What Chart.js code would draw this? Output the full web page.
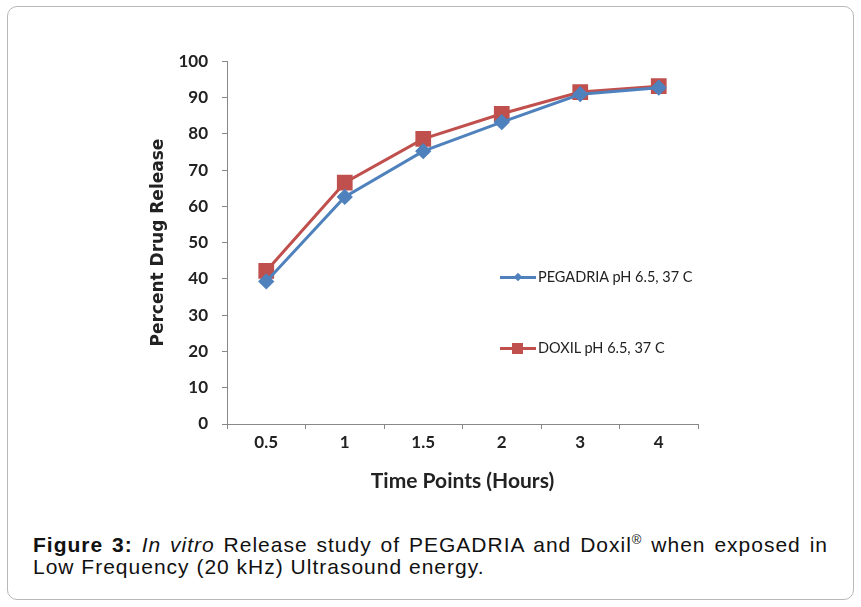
<!DOCTYPE html>
<html>
<head>
<meta charset="utf-8">
<script src="https://cdn.jsdelivr.net/npm/chart.js@4.4.0/dist/chart.umd.min.js"></script>
<style>
  body { margin: 0; background: #fff; width: 861px; height: 607px; position: relative; overflow: hidden; }
  #frame { position: absolute; left: 7px; top: 6px; width: 845px; height: 592px; border: 1px solid #b8b8b8; border-radius: 10px; }
  #wrap { position: absolute; left: 140px; top: 37px; width: 580px; height: 470px; }
  .legend-row { position: absolute; left: 500px; display: flex; align-items: center; font: 14.5px Lato, sans-serif; color: #222; }
  .legend-row .sample { position: relative; width: 36px; height: 14px; margin-right: 2px; }
  .legend-row .sample .ln { position: absolute; left: 0; right: 0; top: 6px; height: 3px; }
  .legend-row .sample .mk { position: absolute; }
  #caption { position: absolute; left: 33px; top: 534px; width: 795px; font: 21px "Liberation Sans", Arial, sans-serif; letter-spacing: 1px; line-height: 22px; color: #111; }
  #caption .l1 { text-align: justify; text-align-last: justify; white-space: nowrap; }
  #caption sup { font-size: 13px; line-height: 0; }
</style>
</head>
<body>
<div id="frame"></div>
<div id="wrap"><canvas id="chart"></canvas></div>
<div id="legend"></div>
<div id="caption"><div class="l1"><b>Figure 3:</b> <i>In vitro</i> Release study of PEGADRIA and Doxil<sup>®</sup> when exposed in</div><div>Low Frequency (20 kHz) Ultrasound energy.</div></div>
<script>
const timePoints = ['0.5', '1', '1.5', '2', '3', '4'];
const pegadria = [39.3, 62.6, 75.2, 83.2, 90.9, 92.7];
const doxil = [42.2, 66.5, 78.6, 85.5, 91.5, 93.1];
const seriesNames = ['PEGADRIA pH 6.5, 37 C', 'DOXIL pH 6.5, 37 C'];

const blue = '#4f81bd';
const red = '#c0504d';

const ctx = document.getElementById('chart').getContext('2d');
const chart = new Chart(ctx, {
    type: 'line',
    data: {
        labels: timePoints,
        datasets: [
            {
                label: seriesNames[0],
                data: pegadria,
                borderColor: blue,
                backgroundColor: blue,
                borderWidth: 3,
                pointStyle: 'rectRot',
                pointRadius: 6,
                pointHoverRadius: 6,
            },
            {
                label: seriesNames[1],
                data: doxil,
                borderColor: red,
                backgroundColor: red,
                borderWidth: 3,
                pointStyle: 'rect',
                pointRadius: 9,
                pointHoverRadius: 9,
            }
        ]
    },
    options: {
        responsive: true,
        maintainAspectRatio: false,
        animation: false,
        layout: { padding: { top: 14, right: 22, left: 0, bottom: 0 } },
        plugins: { legend: { display: false }, tooltip: { enabled: false } },
        scales: {
            x: {
                offset: true,
                grid: { offset: true, drawOnChartArea: false, tickLength: 5, color: '#888' },
                border: { color: '#888' },
                ticks: { color: '#222', padding: 3, font: { family: 'Lato', weight: 'bold', size: 17 } },
                title: {
                    display: true,
                    text: 'Time Points (Hours)',
                    color: '#222',
                    padding: { top: 0, bottom: 13 },
                    font: { family: 'Lato', weight: 'bold', size: 21 }
                },
                afterFit: s => { s.height = 83; }
            },
            y: {
                min: 0,
                max: 100,
                ticks: { stepSize: 10, color: '#222', padding: 14, font: { family: 'Lato', weight: 'bold', size: 17 } },
                grid: { drawOnChartArea: false, tickLength: 5, color: '#888' },
                border: { color: '#888' },
                title: {
                    display: true,
                    text: 'Percent Drug Release',
                    color: '#222',
                    padding: { top: 8, bottom: 0 },
                    font: { family: 'DejaVu Sans', weight: 'bold', size: 17 }
                },
                afterFit: s => { s.width = 87; }
            }
        }
    }
});

// legend placed inside the plot like the original
const legend = document.getElementById('legend');
const rowTops = [268, 339];
chart.data.datasets.forEach((ds, i) => {
    const row = document.createElement('div');
    row.className = 'legend-row';
    row.style.top = rowTops[i] + 'px';
    const sample = document.createElement('div');
    sample.className = 'sample';
    const ln = document.createElement('div');
    ln.className = 'ln';
    ln.style.background = ds.borderColor;
    const mk = document.createElement('div');
    mk.className = 'mk';
    mk.style.background = ds.borderColor;
    if (ds.pointStyle === 'rect') {
        mk.style.width = '11px'; mk.style.height = '11px';
        mk.style.left = '12px'; mk.style.top = '2px';
    } else {
        mk.style.width = '6px'; mk.style.height = '6px';
        mk.style.left = '15px'; mk.style.top = '4.5px';
        mk.style.transform = 'rotate(45deg)';
    }
    sample.appendChild(ln);
    sample.appendChild(mk);
    const txt = document.createElement('span');
    txt.textContent = ds.label;
    row.appendChild(sample);
    row.appendChild(txt);
    legend.appendChild(row);
});
</script>
</body>
</html>
